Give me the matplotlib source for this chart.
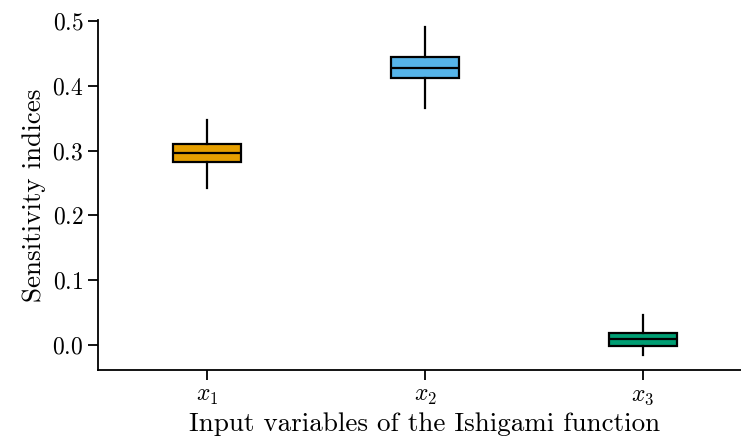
import matplotlib
matplotlib.use('Agg')
import matplotlib.pyplot as plt

# values
labels = [r'$x_1$', r'$x_2$', r'$x_3$']
q1 = [0.282, 0.412, -0.0015]
med = [0.296, 0.428, 0.009]
q3 = [0.310, 0.444, 0.0185]
whislo = [0.242, 0.365, -0.015]
whishi = [0.347, 0.491, 0.046]
colors = ['#E69F00', '#56B4E9', '#009E73']

plt.rcParams['font.family'] = 'serif'
plt.rcParams['font.serif'] = ['cmr10']
plt.rcParams['mathtext.fontset'] = 'cm'
plt.rcParams['axes.formatter.use_mathtext'] = True

stats = []
for i in range(len(labels)):
    stats.append({'label': labels[i], 'q1': q1[i], 'med': med[i], 'q3': q3[i],
                  'whislo': whislo[i], 'whishi': whishi[i], 'fliers': []})

fig = plt.figure(figsize=(7.41, 4.45), dpi=100)
ax = fig.add_axes([98 / 741, 75 / 445, 654 / 741, 350 / 445])

bp = ax.bxp(stats, widths=0.31, patch_artist=True, showcaps=False,
            boxprops={'linewidth': 1.6, 'edgecolor': 'black'},
            whiskerprops={'linewidth': 1.6, 'color': 'black'},
            medianprops={'linewidth': 1.6, 'color': 'black'})
for patch, c in zip(bp['boxes'], colors):
    patch.set_facecolor(c)

ax.set_xlim(0.5, 3.5)
ax.set_ylim(-0.0385, 0.5015)
ax.set_yticks([0.0, 0.1, 0.2, 0.3, 0.4, 0.5])
ax.spines['top'].set_visible(False)
ax.spines['right'].set_visible(False)
ax.spines['left'].set_linewidth(1.3)
ax.spines['bottom'].set_linewidth(1.3)
ax.tick_params(labelsize=17, width=1.3, length=7)
ax.set_xlabel('Input variables of the Ishigami function', fontsize=19.5)
ax.set_ylabel('Sensitivity indices', fontsize=19.5)

plt.savefig('out.png', dpi=100)
